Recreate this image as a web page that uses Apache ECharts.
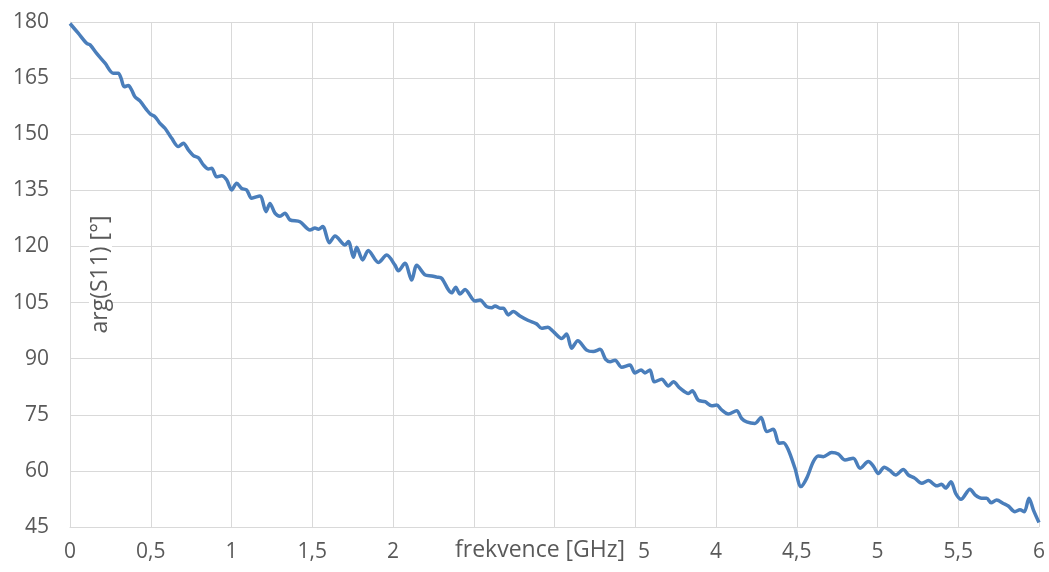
<!DOCTYPE html>
<html>
<head>
<meta charset="utf-8">
<script src="https://cdn.jsdelivr.net/npm/echarts@6/dist/echarts.min.js"></script>
<style>
  html, body { margin: 0; padding: 0; background: #fff; }
  #chart { width: 1049px; height: 572px; }
</style>
</head>
<body>
<div id="chart"></div>
<script>
// frequency [GHz] and phase of S11 [deg]
var freq = [0, 0.051, 0.103, 0.124, 0.165, 0.217, 0.268, 0.299, 0.316, 0.336,
    0.361, 0.382, 0.402, 0.433, 0.475, 0.5, 0.526, 0.557, 0.588, 0.63,
    0.671, 0.702, 0.733, 0.764, 0.795, 0.826, 0.857, 0.877, 0.908, 0.939,
    0.97, 1.001, 1.032, 1.063, 1.094, 1.125, 1.176, 1.214, 1.238, 1.269,
    1.3, 1.331, 1.362, 1.424, 1.486, 1.517, 1.538, 1.565, 1.606, 1.641,
    1.703, 1.724, 1.755, 1.775, 1.812, 1.847, 1.909, 1.961, 2.012, 2.033,
    2.074, 2.116, 2.147, 2.198, 2.24, 2.271, 2.301, 2.343, 2.363, 2.388,
    2.415, 2.446, 2.508, 2.539, 2.58, 2.611, 2.632, 2.663, 2.683, 2.714,
    2.745, 2.786, 2.838, 2.889, 2.92, 2.958, 2.993, 3.044, 3.075, 3.106,
    3.144, 3.199, 3.24, 3.282, 3.317, 3.344, 3.375, 3.416, 3.467, 3.498,
    3.536, 3.56, 3.591, 3.618, 3.664, 3.705, 3.736, 3.777, 3.829, 3.853,
    3.89, 3.932, 3.973, 4.004, 4.035, 4.076, 4.128, 4.159, 4.19, 4.241,
    4.279, 4.314, 4.355, 4.39, 4.417, 4.448, 4.489, 4.526, 4.561, 4.603,
    4.633, 4.664, 4.716, 4.757, 4.799, 4.85, 4.892, 4.943, 4.974, 5.005,
    5.042, 5.077, 5.113, 5.16, 5.191, 5.232, 5.274, 5.315, 5.366, 5.397,
    5.422, 5.455, 5.484, 5.517, 5.573, 5.604, 5.645, 5.676, 5.703, 5.738,
    5.779, 5.81, 5.851, 5.882, 5.909, 5.938, 5.965, 6.0];

var phase = [179.6, 177, 174.3, 173.9, 171.6, 169, 166.3, 166.3, 165, 162.7,
    163, 161.8, 160, 158.9, 156.5, 155.3, 154.7, 152.9, 151.6, 148.9,
    146.7, 147.6, 145.8, 144.3, 143.7, 141.8, 140.7, 140.9, 138.6, 138.9,
    137.8, 135.1, 136.9, 135.5, 135.1, 132.9, 133.5, 129.3, 131.5, 128.9,
    128.1, 128.9, 127.1, 126.6, 124.4, 124.9, 124.6, 125.3, 121, 122.8,
    120.4, 121.3, 117.1, 119.8, 116.4, 118.9, 115.7, 117.7, 115.0, 113.5,
    115.5, 111, 115, 112.4, 112.1, 111.8, 111.5, 108.4, 107.6, 109.1,
    107.3, 108.5, 105.4, 105.7, 103.9, 103.6, 104.1, 103.5, 103.5, 101.7,
    102.6, 101.4, 100.2, 99.3, 98.1, 98.4, 97.2, 95.4, 96.6, 92.8,
    94.8, 92.3, 91.9, 92.5, 89.8, 89.2, 89.6, 87.7, 88.3, 86.2,
    87, 86.2, 87, 83.8, 84.5, 82.7, 83.8, 82.1, 80.7, 81.4,
    78.9, 78.5, 77.4, 77.6, 76.3, 75.2, 76.1, 74, 73.1, 72.7,
    74.3, 70.5, 71.1, 67.4, 67.5, 65.6, 60.7, 55.8, 58, 62.5,
    64, 63.8, 64.9, 64.5, 62.9, 63.4, 60.7, 62.5, 61.3, 59.3,
    61.0, 60.1, 58.9, 60.4, 58.9, 58.0, 56.7, 57.4, 56, 56.4,
    55.4, 57.1, 54.0, 52.4, 55.1, 53.6, 52.7, 52.7, 51.5, 52.2,
    51.3, 50.6, 49.1, 49.6, 49.1, 52.7, 49.6, 46.2];

var xName = 'frekvence [GHz]';
var yName = 'arg(S11) [°]';

var txt = '#595959';
var gridCol = '#d9d9d9';
var font = 'Open Sans';

var pts = [];
for (var i = 0; i < freq.length; i++) pts.push([freq[i], phase[i]]);

var chart = echarts.init(document.getElementById('chart'));
chart.setOption({
    animation: false,
    // x axis title sits over the tick labels (white box), as in the original
    title: {
        text: xName,
        left: 448, top: 538,
        padding: [1, 14, 1, 7],
        backgroundColor: '#fff',
        textStyle: { color: txt, fontFamily: font, fontSize: 23, fontWeight: 'normal' }
    },
    grid: { left: 70, right: 10, top: 22, bottom: 45, outerBoundsMode: 'none', containLabel: false },
    xAxis: {
        type: 'value', min: 0, max: 6, interval: 0.5,
        axisLine: { lineStyle: { color: gridCol } },
        axisTick: { show: false },
        axisLabel: {
            color: txt, fontFamily: font, fontSize: 21, margin: 15,
            formatter: function (v) { return String(v).replace('.', ','); }
        },
        splitLine: { lineStyle: { color: gridCol } }
    },
    yAxis: {
        type: 'value', min: 45, max: 180, interval: 15,
        name: yName, nameLocation: 'middle', nameRotate: 90, nameGap: -42, nameMoveOverlap: false,
        nameTextStyle: { color: txt, fontFamily: font, fontSize: 23, backgroundColor: '#fff', padding: [0, 4, 0, 4] },
        axisLine: { show: true, lineStyle: { color: gridCol } },
        axisTick: { show: false },
        axisLabel: { color: txt, fontFamily: font, fontSize: 21, margin: 21 },
        splitLine: { lineStyle: { color: gridCol } }
    },
    series: [{
        type: 'line',
        data: pts,
        smooth: 0.3,
        showSymbol: false,
        lineStyle: { color: '#4a7ebb', width: 3.5 },
        itemStyle: { color: '#4a7ebb' }
    }]
});
</script>
</body>
</html>
